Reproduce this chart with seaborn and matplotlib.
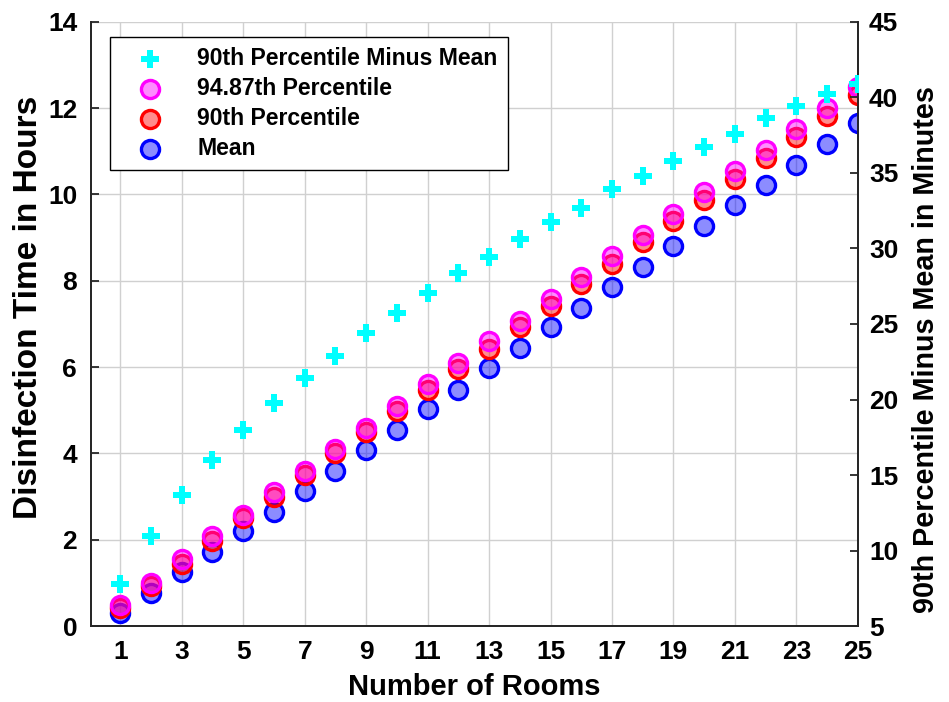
import matplotlib
matplotlib.use("Agg")
import matplotlib.pyplot as plt
import matplotlib.colors as mcolors
import seaborn as sns
import numpy as np

rooms = list(range(1, 26))
mean_hours = [0.30, 0.78, 1.25, 1.72, 2.20, 2.65, 3.12, 3.60, 4.07, 4.55,
              5.02, 5.48, 5.97, 6.45, 6.92, 7.38, 7.85, 8.33, 8.80, 9.28,
              9.75, 10.22, 10.68, 11.17, 11.65]
p90_hours = [0.42, 0.92, 1.45, 1.98, 2.50, 3.00, 3.50, 4.00, 4.50, 4.98,
             5.47, 5.95, 6.43, 6.93, 7.42, 7.92, 8.38, 8.90, 9.38, 9.87,
             10.35, 10.85, 11.32, 11.82, 12.30]
p9487_hours = [0.50, 1.00, 1.55, 2.08, 2.58, 3.10, 3.60, 4.10, 4.60, 5.10,
               5.60, 6.10, 6.60, 7.08, 7.58, 8.08, 8.57, 9.07, 9.55, 10.05,
               10.55, 11.03, 11.52, 12.00, 12.50]
diff_minutes = [7.8, 11.0, 13.7, 16.0, 18.0, 19.8, 21.4, 22.9, 24.4, 25.7,
                27.05, 28.4, 29.4, 30.6, 31.75, 32.7, 33.9, 34.8, 35.8, 36.7,
                37.6, 38.6, 39.4, 40.2, 40.9]

x_ticks = list(range(1, 26, 2))
left_ticks = list(range(0, 15, 2))
right_ticks = list(range(5, 46, 5))

sns.set_style("white")
plt.rcParams['font.family'] = ['Liberation Sans', 'DejaVu Sans']
plt.rcParams['font.weight'] = 'bold'
plt.rcParams['text.color'] = 'black'
plt.rcParams['axes.labelcolor'] = 'black'

fig = plt.figure(figsize=(9.49, 7.02), dpi=100)
ax = fig.add_axes([0.096, 0.108, 0.808, 0.861])
ax2 = ax.twinx()

def circ(axis, y, col, label):
    sns.scatterplot(x=rooms, y=y, ax=axis, marker='o', s=170,
                    color=mcolors.to_rgba(col, 0.45), edgecolor=col,
                    linewidth=2.4, label=label, zorder=3)

circ(ax, mean_hours, '#0000ff', 'Mean')
circ(ax, p90_hours, '#ff0000', '90th Percentile')
circ(ax, p9487_hours, '#ff00ff', '94.87th Percentile')

sns.scatterplot(x=rooms, y=diff_minutes, ax=ax2, marker='P', s=150,
                color='#00ffff', linewidth=0, label='90th Percentile Minus Mean',
                zorder=3)

ax.set_xlim(0.05, 25)
ax.set_ylim(0, 14)
ax2.set_ylim(5, 45)
ax.set_xticks(x_ticks)
ax.set_yticks(left_ticks)
ax2.set_yticks(right_ticks)

ax.grid(True, color='#d0d0d0', linewidth=1.0)
ax.set_axisbelow(True)
ax2.grid(False)

for a in (ax, ax2):
    a.tick_params(direction='in', length=6, width=1.3, labelsize=19,
                  colors='#262626', labelcolor='black')
    for t in a.get_xticklabels() + a.get_yticklabels():
        t.set_fontweight('bold')
    for side in ('left', 'right', 'bottom'):
        a.spines[side].set_visible(True)
        a.spines[side].set_color('#262626')
        a.spines[side].set_linewidth(1.3)
    a.spines['top'].set_visible(False)
ax.tick_params(axis='x', pad=10)
ax.tick_params(axis='y', pad=10)
ax2.tick_params(axis='y', pad=8)

ax.set_xlabel('Number of Rooms', fontsize=21, fontweight='bold')
ax.set_ylabel('Disinfection Time in Hours', fontsize=24, fontweight='bold')
ax2.set_ylabel('90th Percentile Minus Mean in Minutes', fontsize=20.7,
               fontweight='bold')
ax.xaxis.set_label_coords(0.5, -0.077)
ax.yaxis.set_label_coords(-0.062, 0.528)
ax2.yaxis.set_label_coords(1.071, 0.457)

if ax.get_legend():
    ax.get_legend().remove()
if ax2.get_legend():
    ax2.get_legend().remove()
h1, l1 = ax.get_legend_handles_labels()
h2, l2 = ax2.get_legend_handles_labels()
hmap = dict(zip(l1 + l2, h1 + h2))
order = ['90th Percentile Minus Mean', '94.87th Percentile', '90th Percentile', 'Mean']
leg = ax2.legend([hmap[k] for k in order], order, loc='upper left',
                 bbox_to_anchor=(0.024, 0.975), frameon=True, fancybox=False,
                 edgecolor='black', framealpha=1, prop={'weight': 'bold', 'size': 16.6},
                 handletextpad=0.75, borderpad=0.45, labelspacing=0.3,
                 handlelength=2.6, borderaxespad=0)
leg.get_frame().set_linewidth(1.0)

fig.savefig('out.png', dpi=100)
